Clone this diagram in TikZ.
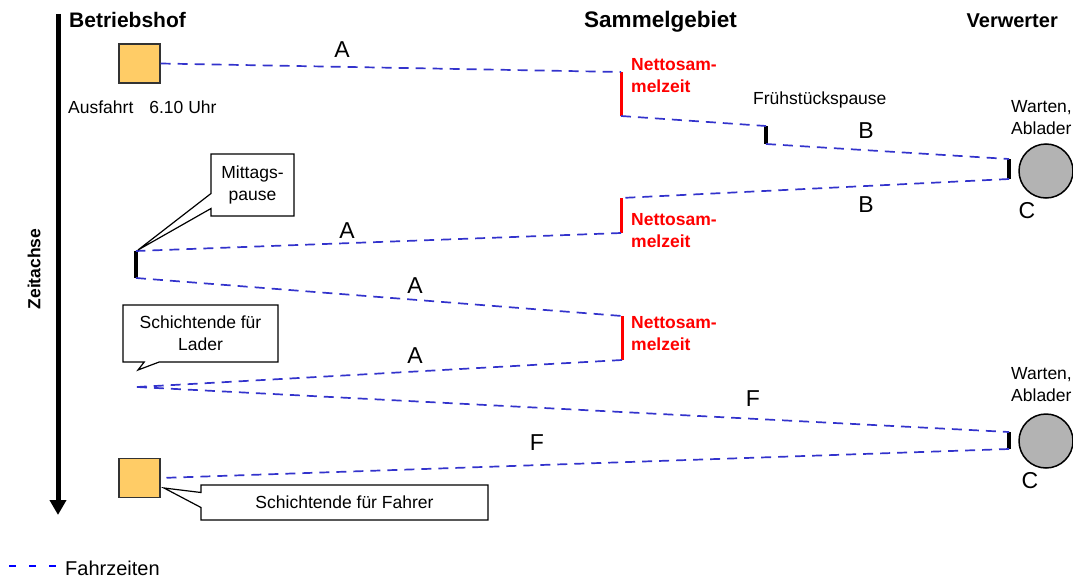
\documentclass[tikz,border=0pt]{standalone}
\usepackage{fontspec}
\setmainfont{Liberation Sans}
\usetikzlibrary{arrows.meta,shapes.callouts}
\definecolor{drivecol}{RGB}{51,51,204}
\definecolor{depotcol}{RGB}{255,204,102}
\definecolor{plantcol}{RGB}{179,179,179}
\begin{document}
\begin{tikzpicture}[x=1pt,y=-1pt,
  txt/.style={font=\fontsize{17.5}{22}\selectfont, inner sep=0pt},
  head/.style={font=\fontsize{21}{24}\selectfont\bfseries, inner sep=0pt},
  letter/.style={font=\fontsize{23}{26}\selectfont, inner sep=0pt},
  net/.style={font=\fontsize{17.5}{22}\selectfont\bfseries, text=red, align=left, inner sep=0pt, anchor=west},
  drive/.style={draw=drivecol, line width=1.7pt, dash pattern=on 10pt off 7pt},
  netbar/.style={draw=red, line width=3pt},
  waitbar/.style={draw=black, line width=4pt},
  depotbox/.style={draw=black!80, fill=depotcol, line width=1.2pt, minimum width=41pt, minimum height=39pt, inner sep=0pt},
  plantdisk/.style={circle, draw=black, fill=plantcol, line width=1.5pt, minimum size=54pt, inner sep=0pt},
  note/.style={rectangle callout, draw=black, fill=white, line width=1.2pt, align=center,
    font=\fontsize{17.5}{22}\selectfont, inner sep=0pt, callout pointer width=15pt}
]
\useasboundingbox (0,0) rectangle (1073,578);

% column headings
\node[head, anchor=base west] (hdepot) at (69,28) {Betriebshof};
\node[head, font=\fontsize{22.5}{26}\selectfont\bfseries, anchor=base] (hcollect) at (660.5,28) {Sammelgebiet};
\node[head, font=\fontsize{20}{24}\selectfont\bfseries, anchor=base east] (hplant) at (1058,28) {Verwerter};

% time axis
\coordinate (axtop) at (58,14);
\coordinate (axbot) at (58,515);
\draw[line width=5pt, -{Triangle[width=16pt,length=15pt]}] (axtop) -- (axbot);
\node[font=\fontsize{17.5}{22}\selectfont\bfseries, inner sep=0pt, rotate=90] (axislabel) at (34,269) {Zeitachse};

% depot, start and end of the shift
\node[depotbox] (depot1) at (139.5,63.5) {};
\node[depotbox] (depot2) at (139.5,478) {};
\node[txt, anchor=base west] (depart) at (68,113) {Ausfahrt\hspace{16pt}6.10 Uhr};

% recycling plant
\node[plantdisk] (plant1) at (1046,171) {};
\node[plantdisk] (plant2) at (1046,441) {};
\node[txt, align=left, anchor=west] (wait1) at (1011,117.5) {Warten,\\Ablader};
\node[txt, align=left, anchor=west] (wait2) at (1011,384.5) {Warten,\\Ablader};
\node[letter] (c1) at (1027,211) {C};
\node[letter] (c2) at (1030,481) {C};

% end points of the stops
\coordinate (n1top) at (621,72);   \coordinate (n1bot) at (621,116);
\coordinate (f1top) at (766,126);  \coordinate (f1bot) at (766,144);
\coordinate (v1top) at (1009,159); \coordinate (v1bot) at (1009,179);
\coordinate (n2top) at (621,198);  \coordinate (n2bot) at (621,233);
\coordinate (m1top) at (136,251);  \coordinate (m1bot) at (136,278);
\coordinate (n3top) at (622,316);  \coordinate (n3bot) at (622,360);
\coordinate (lader) at (137,387);
\coordinate (v2top) at (1009,432); \coordinate (v2bot) at (1009,449);

% net collecting time
\draw[netbar] (n1top) -- (n1bot);
\draw[netbar] (n2top) -- (n2bot);
\draw[netbar] (n3top) -- (n3bot);
\node[net] (net1) at (631,75.5) {Nettosam-\\melzeit};
\node[net] (net2) at (631,231) {Nettosam-\\melzeit};
\node[net] (net3) at (631,334) {Nettosam-\\melzeit};

% breaks and waiting
\draw[waitbar] (f1top) -- (f1bot);
\draw[waitbar] (v1top) -- (v1bot);
\draw[waitbar] (m1top) -- (m1bot);
\draw[waitbar] (v2top) -- (v2bot);
\node[txt, anchor=base west] (breakfast) at (753,104) {Frühstückspause};

% driving
\draw[drive] (depot1.east) -- (n1top);
\draw[drive] (n1bot) -- (f1top);
\draw[drive] (f1bot) -- (v1top);
\draw[drive] (v1bot) -- (n2top);
\draw[drive] (n2bot) -- (m1top);
\draw[drive] (m1bot) -- (n3top);
\draw[drive] (n3bot) -- (lader);
\draw[drive] (lader) -- (v2top);
\draw[drive] (v2bot) -- (depot2.east);

% trip labels
\node[letter] (a1) at (342,50) {A};
\node[letter] (b1) at (866,131) {B};
\node[letter] (b2) at (866,205) {B};
\node[letter] (a2) at (347,231) {A};
\node[letter] (a3) at (415,286) {A};
\node[letter] (a4) at (415,356) {A};
\node[letter] (f1) at (753,399) {F};
\node[letter] (f2) at (537,443) {F};

% callouts
\coordinate (lunchtip) at (138,250);
\coordinate (ladertip) at (138,370);
\coordinate (drivertip) at (164,488);
\node[note, minimum width=83pt, minimum height=62pt, callout absolute pointer={(lunchtip)}]
  (lunch) at (252.5,185) {Mittags-\\pause};
\node[note, minimum width=155pt, minimum height=57pt, callout absolute pointer={(ladertip)}]
  (shiftlader) at (200.5,333.5) {Schichtende für\\Lader};
\node[note, minimum width=287pt, minimum height=35pt, callout absolute pointer={(drivertip)}]
  (shiftdriver) at (344.5,502.5) {Schichtende für Fahrer};

% legend
\coordinate (leg1) at (9,566);
\coordinate (leg2) at (57,566);
\draw[blue, line width=2.8pt, dash pattern=on 7pt off 13pt] (leg1) -- (leg2);
\node[font=\fontsize{20}{24}\selectfont, inner sep=0pt, anchor=base west] (legtxt) at (65,575) {Fahrzeiten};
\end{tikzpicture}
\end{document}
